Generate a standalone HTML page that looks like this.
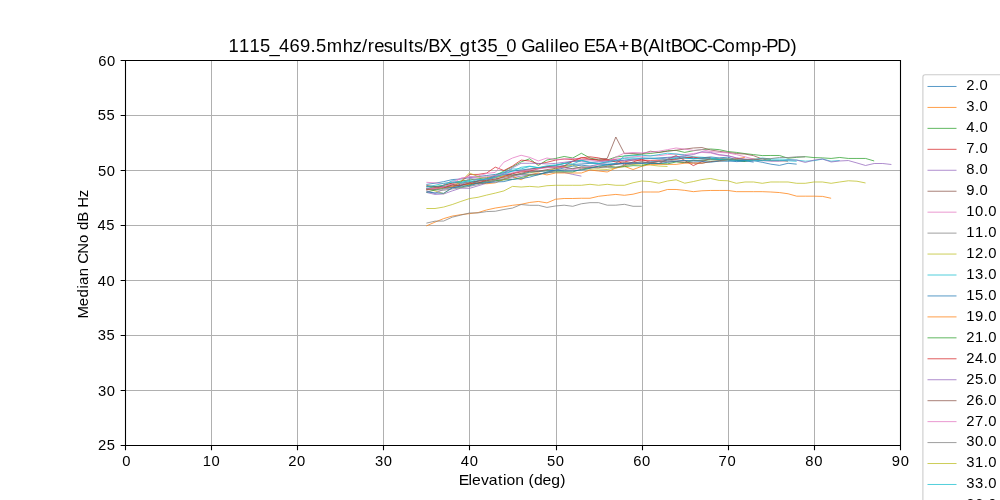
<!DOCTYPE html><html><head><meta charset="utf-8"><style>html,body{margin:0;padding:0;background:#fff;width:1000px;height:500px;overflow:hidden}svg{position:absolute;left:0;top:0;display:block;will-change:transform}text{font-family:"Liberation Sans",sans-serif;fill:#000;stroke:none}</style></head><body>
<svg width="1000" height="500" viewBox="0 0 1000 500">
<rect x="0" y="0" width="1000" height="500" fill="#fff"/>
<path d="M125.50 60.00V445.00M211.50 60.00V445.00M297.50 60.00V445.00M383.50 60.00V445.00M469.50 60.00V445.00M556.50 60.00V445.00M642.50 60.00V445.00M728.50 60.00V445.00M814.50 60.00V445.00M900.50 60.00V445.00M125.00 445.50H900.00M125.00 390.50H900.00M125.00 335.50H900.00M125.00 280.50H900.00M125.00 225.50H900.00M125.00 170.50H900.00M125.00 115.50H900.00M125.00 60.50H900.00" stroke="#b0b0b0" stroke-width="1.1" fill="none" shape-rendering="crispEdges"/>
<g fill="none" stroke-width="0.75" stroke-linejoin="round" stroke-linecap="butt">
<path d="M426.39 184.41 L435.00 183.20 L443.61 181.66 L452.22 179.57 L460.83 179.02 L469.44 177.70 L478.06 176.60 L486.67 175.50 L495.28 174.40 L503.89 172.75 L512.50 171.10 L521.11 170.00 L529.72 168.90 L538.33 167.80 L546.94 167.25 L555.56 166.70 L564.17 165.60 L572.78 164.50 L581.39 163.95 L590.00 163.40 L598.61 163.40 L607.22 162.30 L615.83 161.20 L624.44 160.10 L633.06 159.00 L641.67 159.00 L650.28 158.45 L658.89 157.90 L667.50 157.35 L676.11 156.80 L684.72 156.80 L693.33 157.90 L701.94 159.00 L710.56 159.00 L719.17 159.55 L727.78 160.10 L736.39 161.64 L745.00 161.20 L753.61 160.65 L762.22 162.30 L770.83 164.17 L779.44 165.38 L788.06 163.29 L796.67 164.17" stroke="#1f77b4"/>
<path d="M426.39 225.88 L435.00 222.14 L443.61 218.62 L452.22 216.09 L460.83 214.66 L469.44 213.67 L478.06 212.57 L486.67 209.93 L495.28 208.06 L503.89 206.74 L512.50 205.31 L521.11 204.32 L529.72 202.45 L538.33 201.46 L546.94 202.89 L555.56 199.26 L564.17 198.49 L572.78 198.49 L581.39 198.27 L590.00 198.27 L598.61 196.29 L607.22 195.30 L615.83 194.42 L624.44 195.30 L633.06 194.20 L641.67 192.00 L650.28 192.00 L658.89 192.00 L667.50 189.47 L676.11 189.47 L684.72 190.35 L693.33 191.67 L701.94 190.79 L710.56 190.46 L719.17 190.46 L727.78 190.46 L736.39 191.67 L745.00 191.67 L753.61 191.67 L762.22 191.67 L770.83 192.00 L779.44 192.55 L788.06 193.76 L796.67 196.18 L805.28 196.18 L813.89 196.18 L822.50 196.40 L831.11 198.27" stroke="#ff7f0e"/>
<path d="M426.39 188.70 L435.00 186.50 L443.61 185.40 L452.22 183.20 L460.83 181.00 L469.44 179.90 L478.06 178.80 L486.67 177.70 L495.28 175.50 L503.89 171.10 L512.50 166.81 L521.11 161.86 L529.72 158.78 L538.33 165.49 L546.94 159.99 L555.56 158.45 L564.17 156.47 L572.78 158.01 L581.39 153.28 L590.00 158.01 L598.61 159.99 L607.22 159.99 L615.83 157.02 L624.44 156.03 L633.06 155.04 L641.67 154.05 L650.28 153.50 L658.89 152.40 L667.50 150.75 L676.11 150.42 L684.72 152.40 L693.33 150.75 L701.94 149.54 L710.56 148.99 L719.17 149.65 L727.78 151.52 L736.39 152.40 L745.00 153.61 L753.61 154.60 L762.22 155.59 L770.83 155.48 L779.44 155.48 L788.06 158.23 L796.67 157.35 L805.28 156.69 L813.89 157.57 L822.50 157.90 L831.11 158.45 L839.72 157.46 L848.33 158.45 L856.94 158.45 L865.56 158.45 L874.17 160.98" stroke="#2ca02c"/>
<path d="M426.39 189.25 L435.00 189.25 L443.61 184.96 L452.22 183.20 L460.83 182.10 L469.44 174.51 L478.06 174.40 L486.67 173.08 L495.28 167.14 L503.89 170.55 L512.50 166.04 L521.11 160.10 L529.72 160.98 L538.33 163.95 L546.94 162.30 L555.56 160.10 L564.17 159.00 L572.78 159.55 L581.39 157.90 L590.00 156.80 L598.61 157.90 L607.22 160.10 L615.83 159.55 L624.44 164.83 L633.06 161.97 L641.67 159.22 L650.28 162.41 L658.89 163.62 L667.50 159.22 L676.11 155.59 L684.72 160.43 L693.33 165.60 L701.94 161.64 L710.56 158.45" stroke="#d62728"/>
<path d="M426.39 192.44 L435.00 194.42 L443.61 193.98 L452.22 190.90 L460.83 188.15 L469.44 188.37 L478.06 185.84 L486.67 183.20 L495.28 181.00 L503.89 179.35 L512.50 177.70 L521.11 176.05 L529.72 174.95 L538.33 173.85 L546.94 172.75 L555.56 171.98 L564.17 172.42 L572.78 174.40 L581.39 176.16" stroke="#9467bd"/>
<path d="M426.39 185.40 L435.00 186.61 L443.61 186.61 L452.22 184.63 L460.83 183.20 L469.44 182.10 L478.06 181.44 L486.67 179.90 L495.28 177.70 L503.89 175.50 L512.50 173.30 L521.11 171.10 L529.72 169.45 L538.33 167.80 L546.94 166.70 L555.56 165.60 L564.17 163.40 L572.78 161.20 L581.39 160.10 L590.00 159.55 L598.61 159.00 L607.22 158.45 L615.83 137.00 L624.44 153.61 L633.06 153.50 L641.67 154.05 L650.28 151.19 L658.89 152.40 L667.50 151.30 L676.11 150.20 L684.72 149.10 L693.33 148.00 L701.94 147.56 L710.56 149.98 L719.17 151.30 L727.78 152.40 L736.39 153.50 L745.00 154.05 L753.61 155.70 L762.22 159.00 L770.83 160.65 L779.44 160.65 L788.06 161.20" stroke="#8c564b"/>
<path d="M426.39 182.32 L435.00 182.87 L443.61 183.75 L452.22 181.55 L460.83 178.36 L469.44 176.60 L478.06 175.94 L486.67 173.41 L495.28 172.42 L503.89 162.19 L512.50 158.01 L521.11 155.26 L529.72 157.35 L538.33 160.98 L546.94 158.01 L555.56 159.55 L564.17 159.00 L572.78 158.45 L581.39 159.55 L590.00 160.10 L598.61 161.20 L607.22 160.10 L615.83 159.00 L624.44 157.90 L633.06 156.80 L641.67 156.25 L650.28 155.70 L658.89 155.70 L667.50 154.60 L676.11 154.05 L684.72 154.60 L693.33 153.50 L701.94 152.40 L710.56 152.95 L719.17 155.15 L727.78 155.70 L736.39 157.90 L745.00 159.55 L753.61 161.20" stroke="#e377c2"/>
<path d="M426.39 223.13 L435.00 221.15 L443.61 221.04 L452.22 217.19 L460.83 215.10 L469.44 213.01 L478.06 212.90 L486.67 211.58 L495.28 211.25 L503.89 209.49 L512.50 208.06 L521.11 204.54 L529.72 205.31 L538.33 205.31 L546.94 207.40 L555.56 205.97 L564.17 205.20 L572.78 206.30 L581.39 203.77 L590.00 202.67 L598.61 202.67 L607.22 205.20 L615.83 205.20 L624.44 204.32 L633.06 206.30 L641.67 206.30" stroke="#7f7f7f"/>
<path d="M426.39 188.59 L435.00 190.90 L443.61 193.65 L452.22 187.38 L460.83 181.44 L469.44 172.97 L478.06 176.60 L486.67 178.25 L495.28 177.15 L503.89 176.05 L512.50 174.95 L521.11 173.85 L529.72 172.75 L538.33 171.65 L546.94 170.55 L555.56 168.90 L564.17 166.70 L572.78 165.05 L581.39 169.01 L590.00 169.01 L598.61 169.01 L607.22 169.45 L615.83 168.02 L624.44 165.49 L633.06 164.50 L641.67 163.95 L650.28 165.05 L658.89 166.04 L667.50 166.48" stroke="#bcbd22"/>
<path d="M426.39 186.39 L435.00 187.05 L443.61 185.40 L452.22 180.67 L460.83 182.43 L469.44 180.45 L478.06 183.42 L486.67 181.00 L495.28 175.50 L503.89 172.20 L512.50 169.01 L521.11 168.90 L529.72 166.48 L538.33 167.80 L546.94 166.70 L555.56 165.49 L564.17 163.51 L572.78 161.53 L581.39 160.32 L590.00 162.30 L598.61 163.40 L607.22 164.50 L615.83 163.40 L624.44 156.03 L633.06 155.70 L641.67 155.15 L650.28 156.03 L658.89 154.60 L667.50 153.17 L676.11 154.05 L684.72 155.15 L693.33 156.80 L701.94 157.24 L710.56 157.90 L719.17 159.00 L727.78 159.00 L736.39 160.10 L745.00 160.10 L753.61 159.55 L762.22 158.01 L770.83 159.00 L779.44 159.00 L788.06 159.44 L796.67 160.10 L805.28 161.20 L813.89 160.65 L822.50 159.11 L831.11 161.20 L839.72 160.54" stroke="#17becf"/>
<path d="M426.39 188.25 L435.00 189.22 L443.61 187.22 L452.22 187.31 L460.83 184.01 L469.44 184.28 L478.06 180.90 L486.67 178.75 L495.28 176.21 L503.89 174.35 L512.50 175.01 L521.11 174.23 L529.72 172.08 L538.33 171.46 L546.94 170.87 L555.56 170.16 L564.17 167.83 L572.78 166.18 L581.39 165.16 L590.00 166.09 L598.61 164.35 L607.22 164.11 L615.83 164.43 L624.44 163.62 L633.06 162.93 L641.67 163.18 L650.28 161.80 L658.89 161.38 L667.50 160.30 L676.11 158.43 L684.72 157.97 L693.33 158.70 L701.94 157.80 L710.56 156.92 L719.17 157.89 L727.78 157.11 L736.39 159.89 L745.00 161.32" stroke="#1f77b4"/>
<path d="M426.39 189.80 L435.00 188.70 L443.61 187.60 L452.22 186.50 L460.83 185.40 L469.44 184.30 L478.06 183.20 L486.67 183.75 L495.28 182.87 L503.89 179.35 L512.50 176.27 L521.11 179.79 L529.72 174.84 L538.33 172.97 L546.94 174.95 L555.56 172.97 L564.17 172.97 L572.78 172.97 L581.39 172.97 L590.00 170.00 L598.61 170.99 L607.22 171.98 L615.83 168.02 L624.44 166.37 L633.06 169.56 L641.67 166.37 L650.28 164.39 L658.89 164.39 L667.50 164.39 L676.11 164.39 L684.72 163.18 L693.33 163.18 L701.94 163.18 L710.56 161.64 L719.17 161.20 L727.78 159.99 L736.39 159.00 L745.00 157.24" stroke="#ff7f0e"/>
<path d="M426.39 192.19 L435.00 190.00 L443.61 188.42 L452.22 187.44 L460.83 187.23 L469.44 184.96 L478.06 182.81 L486.67 181.81 L495.28 180.63 L503.89 179.90 L512.50 179.42 L521.11 177.55 L529.72 175.25 L538.33 174.80 L546.94 172.18 L555.56 171.86 L564.17 171.73 L572.78 171.96 L581.39 169.10 L590.00 167.75 L598.61 166.25 L607.22 165.95 L615.83 167.16 L624.44 166.68 L633.06 165.64 L641.67 165.86 L650.28 163.41 L658.89 163.48 L667.50 163.88 L676.11 161.96 L684.72 162.64 L693.33 160.46 L701.94 160.38 L710.56 159.80 L719.17 159.84 L727.78 159.20 L736.39 160.23 L745.00 161.32 L753.61 159.65 L762.22 160.63 L770.83 159.71" stroke="#2ca02c"/>
<path d="M426.39 189.79 L435.00 187.75 L443.61 187.74 L452.22 184.95 L460.83 185.10 L469.44 183.37 L478.06 182.97 L486.67 180.25 L495.28 179.61 L503.89 176.50 L512.50 173.75 L521.11 171.88 L529.72 171.04 L538.33 168.80 L546.94 166.73 L555.56 167.30 L564.17 165.96 L572.78 161.27 L581.39 157.68 L590.00 158.97 L598.61 160.30 L607.22 159.75 L615.83 162.06 L624.44 161.89 L633.06 160.07 L641.67 160.38 L650.28 160.38 L658.89 160.29 L667.50 159.47 L676.11 159.33 L684.72 157.71 L693.33 157.11 L701.94 158.46 L710.56 157.76" stroke="#d62728"/>
<path d="M426.39 190.90 L435.00 193.43 L443.61 189.25 L452.22 187.60 L460.83 186.17 L469.44 178.25 L478.06 179.90 L486.67 178.80 L495.28 176.60 L503.89 173.30 L512.50 167.80 L521.11 163.29 L529.72 163.29 L538.33 163.40 L546.94 163.95 L555.56 163.40 L564.17 162.30 L572.78 161.20 L581.39 161.75 L590.00 162.30 L598.61 161.75 L607.22 161.20 L615.83 160.10 L624.44 160.65 L633.06 160.10 L641.67 157.90 L650.28 158.45 L658.89 159.00 L667.50 157.90 L676.11 156.80 L684.72 155.70 L693.33 154.60 L701.94 151.63 L710.56 152.40 L719.17 154.60 L727.78 155.70 L736.39 157.90 L745.00 159.00 L753.61 160.10 L762.22 160.65 L770.83 161.20 L779.44 161.20 L788.06 160.10 L796.67 160.10 L805.28 162.41 L813.89 160.10 L822.50 159.00 L831.11 161.97 L839.72 160.98 L848.33 160.54 L856.94 162.96 L865.56 165.49 L874.17 163.51 L882.78 163.51 L891.39 164.50" stroke="#9467bd"/>
<path d="M426.39 186.34 L435.00 186.96 L443.61 187.05 L452.22 185.72 L460.83 185.52 L469.44 182.76 L478.06 180.69 L486.67 181.02 L495.28 178.77 L503.89 177.40 L512.50 175.65 L521.11 173.25 L529.72 171.26 L538.33 171.23 L546.94 169.58 L555.56 168.35 L564.17 167.08 L572.78 168.79 L581.39 166.83 L590.00 167.50 L598.61 167.84 L607.22 166.28 L615.83 164.38 L624.44 162.66 L633.06 163.05 L641.67 161.60 L650.28 163.18 L658.89 161.21 L667.50 161.91 L676.11 161.43 L684.72 162.22 L693.33 162.85 L701.94 163.19 L710.56 161.59 L719.17 160.72 L727.78 159.42 L736.39 158.72 L745.00 159.56 L753.61 158.81 L762.22 160.25" stroke="#8c564b"/>
<path d="M426.39 188.15 L435.00 188.70 L443.61 187.05 L452.22 183.86 L460.83 178.25 L469.44 176.93 L478.06 177.70 L486.67 176.60 L495.28 175.50 L503.89 174.40 L512.50 172.75 L521.11 171.10 L529.72 170.00 L538.33 168.90 L546.94 167.80 L555.56 166.70 L564.17 167.80 L572.78 169.56 L581.39 168.35 L590.00 166.70 L598.61 164.50 L607.22 162.30 L615.83 157.02 L624.44 153.17 L633.06 152.51 L641.67 152.84 L650.28 152.18 L658.89 151.19 L667.50 149.65 L676.11 148.00 L684.72 149.10 L693.33 150.42 L701.94 149.65 L710.56 151.52 L719.17 152.40 L727.78 152.95 L736.39 154.60 L745.00 156.80 L753.61 159.00" stroke="#e377c2"/>
<path d="M426.39 189.71 L435.00 189.81 L443.61 190.26 L452.22 188.95 L460.83 187.83 L469.44 186.39 L478.06 184.63 L486.67 182.43 L495.28 179.77 L503.89 178.77 L512.50 176.35 L521.11 174.45 L529.72 174.40 L538.33 174.11 L546.94 173.11 L555.56 170.42 L564.17 169.71 L572.78 168.37 L581.39 167.27 L590.00 167.11 L598.61 167.04 L607.22 167.45 L615.83 167.38 L624.44 165.23 L633.06 163.94 L641.67 162.63 L650.28 162.28 L658.89 161.61 L667.50 161.06 L676.11 159.95 L684.72 160.82 L693.33 160.42 L701.94 160.47 L710.56 159.20 L719.17 158.25 L727.78 158.95 L736.39 159.79 L745.00 159.84 L753.61 159.66 L762.22 158.51 L770.83 158.62 L779.44 157.44 L788.06 157.54 L796.67 156.80 L805.28 156.86" stroke="#7f7f7f"/>
<path d="M426.39 208.50 L435.00 208.50 L443.61 207.07 L452.22 204.54 L460.83 201.46 L469.44 198.60 L478.06 197.28 L486.67 195.08 L495.28 193.10 L503.89 190.90 L512.50 186.39 L521.11 187.05 L529.72 186.39 L538.33 187.05 L546.94 185.73 L555.56 185.29 L564.17 185.29 L572.78 185.29 L581.39 185.29 L590.00 184.30 L598.61 185.29 L607.22 184.30 L615.83 185.29 L624.44 185.29 L633.06 182.76 L641.67 181.00 L650.28 181.55 L658.89 183.20 L667.50 181.00 L676.11 179.79 L684.72 183.20 L693.33 181.55 L701.94 179.57 L710.56 178.47 L719.17 180.45 L727.78 180.78 L736.39 183.31 L745.00 181.99 L753.61 181.99 L762.22 183.31 L770.83 181.99 L779.44 181.99 L788.06 181.99 L796.67 183.31 L805.28 183.31 L813.89 181.99 L822.50 181.99 L831.11 183.31 L839.72 181.99 L848.33 180.78 L856.94 181.22 L865.56 182.98" stroke="#bcbd22"/>
<path d="M426.39 187.04 L435.00 185.28 L443.61 183.28 L452.22 182.42 L460.83 182.16 L469.44 181.59 L478.06 179.67 L486.67 179.18 L495.28 177.38 L503.89 174.16 L512.50 171.18 L521.11 167.30 L529.72 166.13 L538.33 167.58 L546.94 165.80 L555.56 164.87 L564.17 163.57 L572.78 163.93 L581.39 160.50 L590.00 162.74 L598.61 163.70 L607.22 161.68 L615.83 160.46 L624.44 158.39 L633.06 157.91 L641.67 158.30 L650.28 158.08 L658.89 158.85 L667.50 159.28 L676.11 157.79 L684.72 158.10 L693.33 158.84 L701.94 158.20 L710.56 158.25 L719.17 159.53 L727.78 160.04 L736.39 160.27 L745.00 160.35 L753.61 160.86 L762.22 160.23 L770.83 160.27 L779.44 160.31 L788.06 160.79 L796.67 161.27" stroke="#17becf"/>
<path d="M426.39 191.92 L435.00 192.92 L443.61 193.28 L452.22 188.03 L460.83 186.08 L469.44 185.75 L478.06 183.26 L486.67 182.70 L495.28 182.04 L503.89 181.59 L512.50 179.45 L521.11 178.61 L529.72 177.11 L538.33 174.63 L546.94 172.09 L555.56 170.08 L564.17 170.84 L572.78 170.94 L581.39 170.04 L590.00 168.30 L598.61 166.13 L607.22 164.87 L615.83 163.49 L624.44 163.43 L633.06 162.96 L641.67 163.39 L650.28 163.38 L658.89 163.43 L667.50 162.27 L676.11 161.18 L684.72 160.43 L693.33 161.06 L701.94 161.41 L710.56 162.21 L719.17 161.12 L727.78 161.29 L736.39 160.97 L745.00 160.70 L753.61 162.15" stroke="#1f77b4"/>
</g>
<path d="M124.95 60.50H901.05 M124.95 445.50H901.05 M125.50 59.95V446.05 M900.50 59.95V446.05" fill="none" stroke="#000" stroke-width="1.1" stroke-linecap="butt"/>
<path d="M125.50 445.50V450.36M211.50 445.50V450.36M297.50 445.50V450.36M383.50 445.50V450.36M469.50 445.50V450.36M556.50 445.50V450.36M642.50 445.50V450.36M728.50 445.50V450.36M814.50 445.50V450.36M900.50 445.50V450.36M125.50 445.50H120.64M125.50 390.50H120.64M125.50 335.50H120.64M125.50 280.50H120.64M125.50 225.50H120.64M125.50 170.50H120.64M125.50 115.50H120.64M125.50 60.50H120.64" stroke="#000" stroke-width="1.1" fill="none"/>
<text x="122.25" y="466.21" font-size="14.78" transform="scale(1.0000 1)">0</text>
<text x="202.76 211.60" y="466.12" font-size="14.78" transform="scale(1.0000 1)">10</text>
<text x="288.23 297.07" y="466.22" font-size="14.78" transform="scale(1.0000 1)">20</text>
<text x="375.01 383.85" y="466.17" font-size="14.78" transform="scale(1.0000 1)">30</text>
<text x="460.79 469.63" y="466.07" font-size="14.78" transform="scale(1.0000 1)">40</text>
<text x="546.96 555.79" y="466.21" font-size="14.78" transform="scale(1.0000 1)">50</text>
<text x="633.23 642.06" y="466.22" font-size="14.78" transform="scale(1.0000 1)">60</text>
<text x="718.55 727.38" y="466.24" font-size="14.78" transform="scale(1.0000 1)">70</text>
<text x="805.30 814.14" y="466.17" font-size="14.78" transform="scale(1.0000 1)">80</text>
<text x="891.87 900.71" y="466.12" font-size="14.78" transform="scale(1.0000 1)">90</text>
<text x="98.02 106.86" y="450.02" font-size="14.78" transform="scale(1.0000 1)">25</text>
<text x="97.95 106.79" y="395.97" font-size="14.78" transform="scale(1.0000 1)">30</text>
<text x="97.74 106.58" y="339.95" font-size="14.78" transform="scale(1.0000 1)">35</text>
<text x="97.74 106.58" y="285.87" font-size="14.78" transform="scale(1.0000 1)">40</text>
<text x="97.52 106.36" y="229.86" font-size="14.78" transform="scale(1.0000 1)">45</text>
<text x="97.92 106.76" y="176.01" font-size="14.78" transform="scale(1.0000 1)">50</text>
<text x="97.69 106.53" y="119.98" font-size="14.78" transform="scale(1.0000 1)">55</text>
<text x="98.22 107.06" y="66.02" font-size="14.78" transform="scale(1.0000 1)">60</text>
<text x="430.51 439.73 443.08 451.37 458.80 467.41 472.19 475.52 483.64 491.90 496.11 501.14 509.29 517.43 525.76" y="485.07" font-size="14.78" transform="scale(1.0654 1)">Elevation (deg)</text>
<text x="-65.00 -52.84 -44.29 -35.58 -31.95 -23.42 -14.85 -11.18 -1.29 9.25 17.66 22.13 30.34 40.09 44.13 54.51" y="0.00" font-size="14.78" transform="translate(88.4 252.5) rotate(-90) scale(1.0149 1)">Median CNo dB Hz</text>
<text x="220.22 230.40 240.59 250.78 259.87 268.97 279.16 289.34 299.45 304.62 315.06 330.38 340.16 349.03 354.53 360.77 370.01 378.75 389.02 393.89 399.22 408.06 412.80 423.78 434.25 443.33 454.02 459.78 469.97 479.07 488.16 498.27 502.58 515.66 525.75 530.20 534.65 538.84 548.66 558.57 562.72 573.86 583.45 596.37 607.83 619.41 625.05 636.69 641.56 646.74 657.55 669.65 681.58 686.61 698.57 708.81 724.15 734.10 738.85 749.35 762.09" y="51.67" font-size="17.74" transform="scale(1.0372 1)" style="stroke:none">1115_469.5mhz/results/BX_gt35_0 Galileo E5A+B(AltBOC-Comp-PD)</text>
<rect x="922.90" y="74.70" width="120" height="460" rx="2.2" ry="2.2" fill="#fff" fill-opacity="0.8" stroke="#cccccc" stroke-width="1.1"/>
<path d="M927.5 86.48H956.5" stroke="#1f77b4" stroke-width="0.75"/>
<text x="966.21 974.89 979.46" y="90.00" font-size="14.78" transform="scale(1.0000 1)">2.0</text>
<path d="M927.5 107.43H956.5" stroke="#ff7f0e" stroke-width="0.75"/>
<text x="966.21 974.89 979.46" y="111.00" font-size="14.78" transform="scale(1.0000 1)">3.0</text>
<path d="M927.5 128.37H956.5" stroke="#2ca02c" stroke-width="0.75"/>
<text x="966.21 974.89 979.46" y="132.00" font-size="14.78" transform="scale(1.0000 1)">4.0</text>
<path d="M927.5 149.32H956.5" stroke="#d62728" stroke-width="0.75"/>
<text x="966.21 974.89 979.46" y="153.00" font-size="14.78" transform="scale(1.0000 1)">7.0</text>
<path d="M927.5 170.27H956.5" stroke="#9467bd" stroke-width="0.75"/>
<text x="966.21 974.89 979.46" y="174.00" font-size="14.78" transform="scale(1.0000 1)">8.0</text>
<path d="M927.5 191.22H956.5" stroke="#8c564b" stroke-width="0.75"/>
<text x="966.21 974.89 979.46" y="195.00" font-size="14.78" transform="scale(1.0000 1)">9.0</text>
<path d="M927.5 212.16H956.5" stroke="#e377c2" stroke-width="0.75"/>
<text x="966.21 975.04 983.73 988.30" y="216.00" font-size="14.78" transform="scale(1.0000 1)">10.0</text>
<path d="M927.5 233.11H956.5" stroke="#7f7f7f" stroke-width="0.75"/>
<text x="966.21 975.04 983.73 988.30" y="237.00" font-size="14.78" transform="scale(1.0000 1)">11.0</text>
<path d="M927.5 254.06H956.5" stroke="#bcbd22" stroke-width="0.75"/>
<text x="966.21 975.04 983.73 988.30" y="258.00" font-size="14.78" transform="scale(1.0000 1)">12.0</text>
<path d="M927.5 275.00H956.5" stroke="#17becf" stroke-width="0.75"/>
<text x="966.21 975.04 983.73 988.30" y="279.00" font-size="14.78" transform="scale(1.0000 1)">13.0</text>
<path d="M927.5 295.95H956.5" stroke="#1f77b4" stroke-width="0.75"/>
<text x="966.21 975.04 983.73 988.30" y="300.00" font-size="14.78" transform="scale(1.0000 1)">15.0</text>
<path d="M927.5 316.90H956.5" stroke="#ff7f0e" stroke-width="0.75"/>
<text x="966.21 975.04 983.73 988.30" y="321.00" font-size="14.78" transform="scale(1.0000 1)">19.0</text>
<path d="M927.5 337.84H956.5" stroke="#2ca02c" stroke-width="0.75"/>
<text x="966.21 975.04 983.73 988.30" y="342.00" font-size="14.78" transform="scale(1.0000 1)">21.0</text>
<path d="M927.5 358.79H956.5" stroke="#d62728" stroke-width="0.75"/>
<text x="966.21 975.04 983.73 988.30" y="363.00" font-size="14.78" transform="scale(1.0000 1)">24.0</text>
<path d="M927.5 379.74H956.5" stroke="#9467bd" stroke-width="0.75"/>
<text x="966.21 975.04 983.73 988.30" y="384.00" font-size="14.78" transform="scale(1.0000 1)">25.0</text>
<path d="M927.5 400.69H956.5" stroke="#8c564b" stroke-width="0.75"/>
<text x="966.21 975.04 983.73 988.30" y="405.00" font-size="14.78" transform="scale(1.0000 1)">26.0</text>
<path d="M927.5 421.63H956.5" stroke="#e377c2" stroke-width="0.75"/>
<text x="966.21 975.04 983.73 988.30" y="426.00" font-size="14.78" transform="scale(1.0000 1)">27.0</text>
<path d="M927.5 442.58H956.5" stroke="#7f7f7f" stroke-width="0.75"/>
<text x="966.21 975.04 983.73 988.30" y="446.00" font-size="14.78" transform="scale(1.0000 1)">30.0</text>
<path d="M927.5 463.53H956.5" stroke="#bcbd22" stroke-width="0.75"/>
<text x="966.21 975.04 983.73 988.30" y="467.00" font-size="14.78" transform="scale(1.0000 1)">31.0</text>
<path d="M927.5 484.47H956.5" stroke="#17becf" stroke-width="0.75"/>
<text x="966.21 975.04 983.73 988.30" y="488.00" font-size="14.78" transform="scale(1.0000 1)">33.0</text>
<path d="M927.5 505.42H956.5" stroke="#1f77b4" stroke-width="0.75"/>
<text x="966.21 975.04 983.73 988.30" y="509.00" font-size="14.78" transform="scale(1.0000 1)">36.0</text>
</svg></body></html>
